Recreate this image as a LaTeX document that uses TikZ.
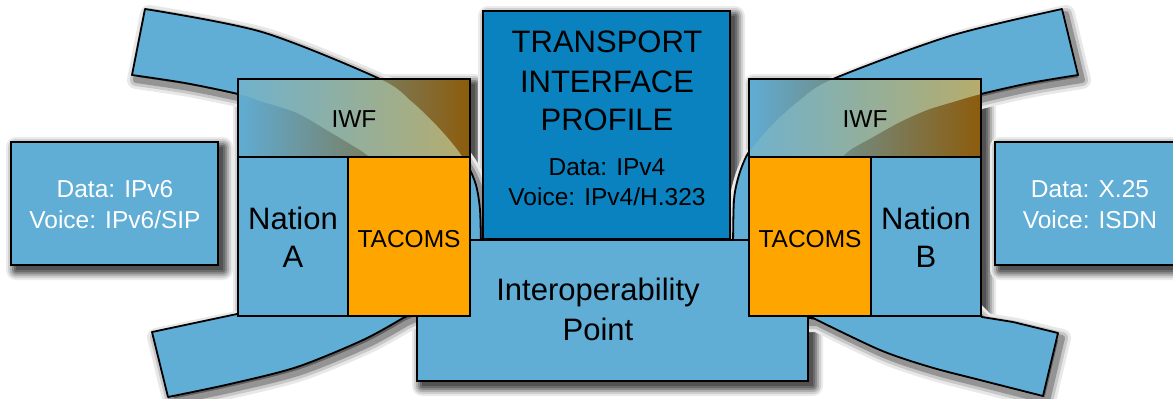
\documentclass[tikz,border=0pt]{standalone}
\usepackage{fontspec}
\setmainfont{Liberation Sans}
\definecolor{lblue}{RGB}{96,173,213}
\definecolor{dblue}{RGB}{10,130,192}
\definecolor{torange}{RGB}{255,165,0}
\definecolor{iwfL}{RGB}{96,172,212}
\definecolor{iwfM}{RGB}{122,152,136}
\definecolor{iwfR}{RGB}{140,92,12}
\definecolor{bandL}{RGB}{112,178,205}
\definecolor{bandM}{RGB}{152,182,150}
\definecolor{bandR}{RGB}{182,172,108}
\newcommand\bigfnt{\fontsize{31}{38}\selectfont}
\newcommand\smallfnt{\fontsize{24.5}{30}\selectfont}
% soft shadow for a rectangle (opaque grey layers): x1,y1,x2,y2 (y downward), offset (5,5)
\newcommand\softshadow[4]{%
  \fill[black!8,  rounded corners=10pt] (#1-5,#2-5) rectangle (#3+15,#4+15);
  \fill[black!18, rounded corners=8pt]  (#1-3,#2-3) rectangle (#3+13,#4+13);
  \fill[black!31, rounded corners=6pt]  (#1-1,#2-1) rectangle (#3+11,#4+11);
  \fill[black!45, rounded corners=4pt]  (#1+1,#2+1) rectangle (#3+9,#4+9);
  \fill[black!58, rounded corners=2pt]  (#1+3,#2+3) rectangle (#3+7,#4+7);
  \fill[black!68] (#1+5,#2+5) rectangle (#3+5,#4+5);}
\newcommand\ULpath{plot[smooth] coordinates {(145,9) (262,32) (380,79) (412,102) (437,126) (456,148) (468,166) (476,185) (480,210) (481,250)}
  -- (420,232) -- plot[smooth] coordinates {(372,160) (363,152) (330,132) (297,113) (263,102) (238,94) (185,83) (132,75)} -- cycle}
\newcommand\URpath{plot[smooth] coordinates {(1062,9) (950,36) (833,79) (800,100) (775,122) (757,142) (747,155) (739,175) (734,200) (733,250)}
  -- (800,232) -- plot[smooth] coordinates {(840,160) (850,150) (873,137) (900,122) (927,110) (953,102) (981,94) (1030,83) (1078,75)} -- cycle}
\newcommand\LLpath{(152,332) -- (237,314) -- (250,305) -- (420,300) -- (412,314)
  -- plot[smooth] coordinates {(403,318) (363,340) (297,367) (230,384) (168,397)} -- cycle}
\newcommand\LRpath{(1058,333) -- (1013,322) -- (982,317) -- (970,305) -- (800,300) -- (805,318)
  -- plot[smooth] coordinates {(813,318) (880,350) (930,367) (980,380) (1043,396)} -- cycle}
\tikzset{
  bandst/.style={fill=lblue, draw=black, line width=1.8pt, line join=round},
  bshdA/.style={line join=round, line width=18pt, draw=black!9, fill=black!62},
  bshdB/.style={line join=round, line width=12pt, draw=black!22, fill=black!62},
  bshdC/.style={line join=round, line width=6pt, draw=black!42, fill=black!62},
  boxst/.style={rectangle, draw=black, line width=1.6pt, inner sep=0pt, outer sep=0pt},
  lbl/.style={anchor=base, inner sep=0pt, text=black},
  wlbl/.style={anchor=base, inner sep=0pt, text=white},
}
\begin{document}
\begin{tikzpicture}[x=1pt,y=-1pt]
\useasboundingbox (0,0) rectangle (1173,399);

% ---- shadows of the central boxes (behind the bands) ----
\softshadow{238}{79}{470}{316}
\softshadow{749}{79}{981}{316}
\softshadow{483}{11}{730}{239}
\softshadow{417}{240}{808}{381}

% ---- curved bands with soft shadows ----
\begin{scope}[shift={(4,5)}]
  \filldraw[bshdA] \ULpath;  \filldraw[bshdA] \URpath;  \filldraw[bshdA] \LLpath;  \filldraw[bshdA] \LRpath;
  \filldraw[bshdB] \ULpath;  \filldraw[bshdB] \URpath;  \filldraw[bshdB] \LLpath;  \filldraw[bshdB] \LRpath;
  \filldraw[bshdC] \ULpath;  \filldraw[bshdC] \URpath;  \filldraw[bshdC] \LLpath;  \filldraw[bshdC] \LRpath;
\end{scope}
\draw[bandst] \ULpath;
\draw[bandst] \URpath;
\draw[bandst] \LLpath;
\draw[bandst] \LRpath;

% ---- info boxes ----
\softshadow{11}{142}{218}{265}
\node[boxst, fill=lblue, minimum width=207pt, minimum height=123pt] (infoL) at (114.5,203.5) {};
\softshadow{995}{142}{1190}{265}
\node[boxst, fill=lblue, minimum width=190pt, minimum height=123pt] (infoR) at (1090,203.5) {};

% ---- transport & interoperability ----
\node[boxst, fill=dblue, minimum width=247pt, minimum height=228pt] (trans) at (606.5,125) {};
\node[boxst, fill=lblue, minimum width=391pt, minimum height=141pt] (interop) at (612.5,310.5) {};

% ---- group A ----
\shade[left color=iwfL, middle color=iwfM, right color=iwfR] (238,79) rectangle (470,157);
\begin{scope}
  \clip (238,79) rectangle (470,157);
  \clip \ULpath;
  \shade[left color=bandL, middle color=bandM, right color=bandR] (238,79) rectangle (470,157);
\end{scope}
\node[boxst, minimum width=232pt, minimum height=78pt] (iwfA) at (354,118) {};
\node[boxst, fill=lblue, minimum width=110pt, minimum height=159pt] (natA) at (293,236.5) {};
\node[boxst, fill=torange, minimum width=122pt, minimum height=159pt] (tacA) at (409,236.5) {};

% ---- group B ----
\shade[left color=iwfL, middle color=iwfM, right color=iwfR] (749,79) rectangle (981,157);
\begin{scope}
  \clip (749,79) rectangle (981,157);
  \clip \URpath;
  \shade[left color=bandL, middle color=bandM, right color=bandR] (749,79) rectangle (981,157);
\end{scope}
\node[boxst, minimum width=232pt, minimum height=78pt] (iwfB) at (865,118) {};
\node[boxst, fill=torange, minimum width=122pt, minimum height=159pt] (tacB) at (810,236.5) {};
\node[boxst, fill=lblue, minimum width=110pt, minimum height=159pt] (natB) at (926,236.5) {};

% ---- texts ----
\node[wlbl, font=\smallfnt] (tL1) at (115,197) {Data: IPv6};
\node[wlbl, font=\smallfnt] (tL2) at (115,228) {Voice: IPv6/SIP};
\node[wlbl, font=\smallfnt] (tR1) at (1090,197) {Data: X.25};
\node[wlbl, font=\smallfnt] (tR2) at (1090,228) {Voice: ISDN};

\node[lbl, font=\smallfnt] (tiwfA) at (354,127) {IWF};
\node[lbl, font=\smallfnt] (tiwfB) at (865,127) {IWF};
\node[lbl, font=\bigfnt] (tnA1) at (293,229) {Nation};
\node[lbl, font=\bigfnt] (tnA2) at (293,267) {A};
\node[lbl, font=\bigfnt] (tnB1) at (926,229) {Nation};
\node[lbl, font=\bigfnt] (tnB2) at (926,267) {B};
\node[lbl, font=\smallfnt] (ttA) at (409,247) {TACOMS};
\node[lbl, font=\smallfnt] (ttB) at (810,247) {TACOMS};

\node[lbl, font=\bigfnt] (tT1) at (607,52) {TRANSPORT};
\node[lbl, font=\bigfnt] (tT2) at (607,92) {INTERFACE};
\node[lbl, font=\bigfnt] (tT3) at (607,130) {PROFILE};
\node[lbl, font=\smallfnt] (tT4) at (607,175) {Data: IPv4};
\node[lbl, font=\smallfnt] (tT5) at (607,205) {Voice: IPv4/H.323};

\node[lbl, font=\bigfnt] (tI1) at (598,300) {Interoperability};
\node[lbl, font=\bigfnt] (tI2) at (598,340) {Point};
\end{tikzpicture}
\end{document}
